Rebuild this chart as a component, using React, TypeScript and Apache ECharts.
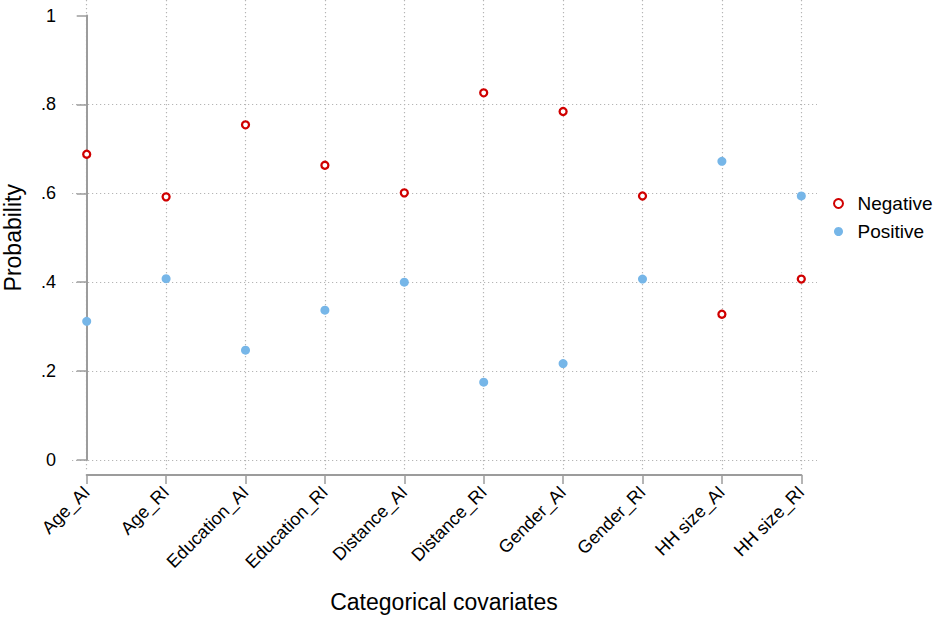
import React, { useEffect, useRef } from "react";
import * as echarts from "echarts";

const categories = [
  "Age_AI", "Age_RI", "Education_AI", "Education_RI", "Distance_AI",
  "Distance_RI", "Gender_AI", "Gender_RI", "HH size_AI", "HH size_RI",
];
const negativeValues = [0.688, 0.592, 0.754, 0.663, 0.601, 0.826, 0.784, 0.594, 0.328, 0.407];
const positiveValues = [0.312, 0.408, 0.247, 0.337, 0.4, 0.175, 0.217, 0.407, 0.672, 0.594];
const yTicks = [0, 0.2, 0.4, 0.6, 0.8, 1];

const FONT = "'Liberation Sans', Arial, Helvetica, sans-serif";
const AXIS_GRAY = "#9c9c9c";
const GRID_GRAY = "#b5b5b5";
const RED = "#d00000";
const BLUE = "#76b6e8";

function fmtTick(v: number): string {
  if (v === 0) return "0";
  if (v === 1) return "1";
  return String(Number(v.toFixed(1))).replace(/^0/, "");
}

export default function App() {
  const ref = useRef<HTMLDivElement>(null);
  useEffect(() => {
    if (!ref.current) return;
    const chart = echarts.init(ref.current, undefined, { renderer: "svg" });
    const catLeft = 86.7;
    const catRight = 801.3;
    const plotLeft = 72;
    const plotRight = 817;
    const unit = (catRight - catLeft) / (categories.length - 1);
    const xMin = -(catLeft - plotLeft) / unit;
    const xMax = categories.length - 1 + (plotRight - catRight) / unit;
    const W = 935;
    const H = 619;

    chart.setOption({
      animation: false,
      textStyle: { fontFamily: FONT },
      grid: [
        { left: plotLeft, right: W - plotRight, top: 15.5, bottom: H - 460, outerBoundsMode: "none", containLabel: false },
        { left: catLeft, right: W - catRight, top: 0, bottom: H - 470, outerBoundsMode: "none", containLabel: false },
        { left: catLeft, right: W - catRight, top: 474, height: 1, outerBoundsMode: "none", containLabel: false },
      ],
      xAxis: [
        { type: "value", gridIndex: 0, min: xMin, max: xMax, show: false },
        {
          type: "value", gridIndex: 1, min: 0, max: categories.length - 1, interval: 1,
          axisLine: { show: false }, axisTick: { show: false }, axisLabel: { show: false },
          splitLine: { show: true, lineStyle: { color: GRID_GRAY, type: [1.2, 2.8], width: 1.2 } },
        },
        {
          type: "category", gridIndex: 2, data: categories, boundaryGap: false, position: "bottom",
          axisLine: { lineStyle: { color: AXIS_GRAY, width: 2 } },
          axisTick: { length: 9, lineStyle: { color: AXIS_GRAY, width: 1.5 }, alignWithLabel: true },
          axisLabel: { rotate: 45, fontSize: 18, color: "#000", margin: 14, fontFamily: FONT, interval: 0, hideOverlap: false },
          name: "Categorical covariates", nameLocation: "middle", nameGap: 115,
          nameTextStyle: { fontSize: 23, color: "#000", fontFamily: FONT },
        },
      ],
      yAxis: [
        {
          type: "value", gridIndex: 0, min: 0, max: 1, interval: 0.2,
          axisLine: { show: true, lineStyle: { color: AXIS_GRAY, width: 2 } },
          axisTick: { show: true, length: 10, lineStyle: { color: AXIS_GRAY, width: 1.5 } },
          axisLabel: { fontSize: 18, color: "#000", margin: 16, fontFamily: FONT, formatter: (v: number) => fmtTick(v), customValues: yTicks },
          splitLine: { show: true, showMaxLine: false, lineStyle: { color: GRID_GRAY, type: [1.2, 2.8], width: 1.2 } },
          name: "Probability", nameLocation: "middle", nameGap: 48,
          nameTextStyle: { fontSize: 23, color: "#000", fontFamily: FONT },
        },
        { type: "value", gridIndex: 1, show: false, min: 0, max: 1 },
        { type: "value", gridIndex: 2, show: false, min: 0, max: 1 },
      ],
      legend: {
        data: ["Negative", "Positive"],
        orient: "vertical",
        left: 828,
        top: 189,
        itemWidth: 28,
        itemHeight: 9,
        itemGap: 9,
        textStyle: { fontSize: 19, color: "#000", fontFamily: FONT, padding: [0, 0, 0, 0] },
      },
      series: [
        {
          name: "Negative", type: "scatter", xAxisIndex: 0, yAxisIndex: 0,
          symbol: "circle", symbolSize: 7,
          itemStyle: { color: "#ffffff", borderColor: RED, borderWidth: 2.3, opacity: 1 },
          data: negativeValues.map((v, i) => [i, v]),
          z: 5,
        },
        {
          name: "Positive", type: "scatter", xAxisIndex: 0, yAxisIndex: 0,
          symbol: "circle", symbolSize: 9,
          itemStyle: { color: BLUE, opacity: 1 },
          data: positiveValues.map((v, i) => [i, v]),
          z: 5,
        },
      ],
    });
    return () => chart.dispose();
  }, []);
  return <div ref={ref} style={{ width: 935, height: 619, position: "absolute", left: 0, top: 0 }} />;
}
